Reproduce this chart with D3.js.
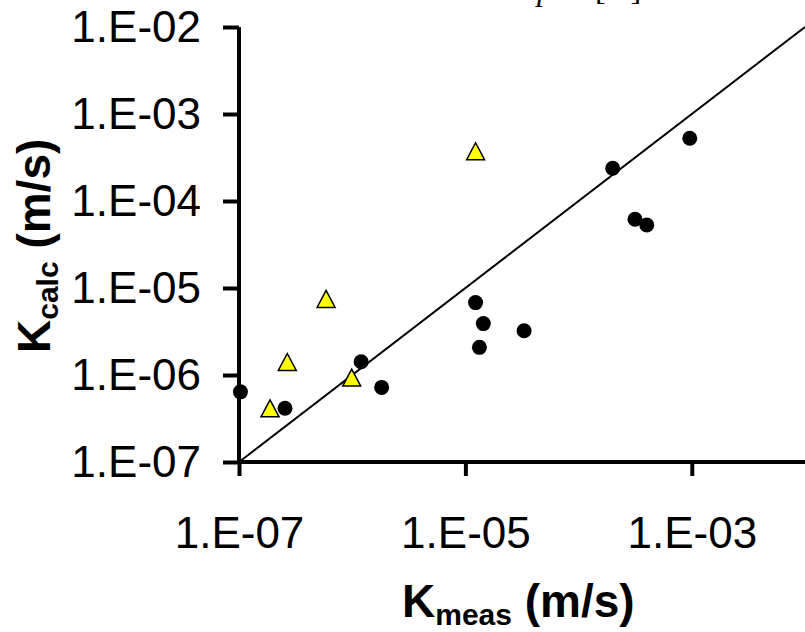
<!DOCTYPE html>
<html>
<head>
<meta charset="utf-8">
<script src="https://cdn.jsdelivr.net/npm/d3@7"></script>
<style>
  html, body { margin: 0; padding: 0; background: #fff; }
  svg { display: block; }
</style>
</head>
<body>
<svg id="chart" width="805" height="632"></svg>
<script>
// ---- data ----
const circleMeas = [1.03e-7, 2.55e-7, 1.2e-6, 1.82e-6, 1.23e-5, 1.44e-5, 1.33e-5, 3.3e-5, 2.0e-4, 3.15e-4, 4.0e-4, 9.6e-4];
const circleCalc = [6.4e-7, 4.14e-7, 1.42e-6, 7.2e-7, 6.8e-6, 3.9e-6, 2.08e-6, 3.23e-6, 2.38e-4, 6.17e-5, 5.3e-5, 5.26e-4];
const triMeas = [1.88e-7, 2.67e-7, 5.88e-7, 9.9e-7, 1.23e-5];
const triCalc = [4.14e-7, 1.41e-6, 7.48e-6, 9.35e-7, 3.73e-4];
const lineEnds = [1e-7, 1e-2];
const xTicks = [1e-7, 1e-5, 1e-3];
const yTicks = [1e-7, 1e-6, 1e-5, 1e-4, 1e-3, 1e-2];
const fmt = v => "1.E-" + String(Math.round(-Math.log10(v))).padStart(2, "0");

// ---- layout ----
const svg = d3.select("#chart");
const x = d3.scaleLog().domain([1e-7, 1e-2]).range([239, 805]);
const y = d3.scaleLog().domain([1e-7, 1e-2]).range([462, 27]);
const font = "'Liberation Sans', Arial, sans-serif";

// cut-off title at the top
const title = svg.append("text").attr("y", 0)
  .attr("font-family", "'Liberation Serif', 'Times New Roman', serif")
  .attr("font-size", 32).attr("fill", "#000");
title.append("tspan").attr("x", 537).attr("font-style", "italic").text("p");
title.append("tspan").attr("x", 595).text("[cr]");

// 1:1 line
svg.append("line")
  .attr("x1", x(lineEnds[0])).attr("y1", y(lineEnds[0]))
  .attr("x2", x(lineEnds[1])).attr("y2", y(lineEnds[1]))
  .attr("stroke", "#000").attr("stroke-width", 2);

// axes
const xAxis = d3.axisBottom(x).tickValues(xTicks).tickFormat(fmt).tickSize(14).tickPadding(40);
const yAxis = d3.axisLeft(y).tickValues(yTicks).tickFormat(fmt).tickSize(16).tickPadding(22);

const gx = svg.append("g").attr("transform", `translate(0,${y(1e-7)})`).call(xAxis);
const gy = svg.append("g").attr("transform", `translate(${x(1e-7)},0)`).call(yAxis);
[gx, gy].forEach(g => {
  g.select(".domain").attr("stroke", "#000").attr("stroke-width", 4);
  g.selectAll(".tick line").attr("stroke", "#000").attr("stroke-width", 4);
  g.selectAll(".tick text").attr("font-family", font).attr("font-size", 44).attr("fill", "#000");
});
gx.select(".domain").attr("d", `M${x(1e-7)},0H806`);
gy.select(".domain").attr("d", `M0,${y(1e-2)}V${y(1e-7)}`);
gx.selectAll(".tick text").attr("dy", "0").attr("y", 86);

// circles
svg.append("g").selectAll("circle")
  .data(circleMeas.map((m, i) => [m, circleCalc[i]]))
  .join("circle")
  .attr("cx", d => x(d[0])).attr("cy", d => y(d[1]))
  .attr("r", 7.5).attr("fill", "#000");

// triangles
const tw = 18, th = 17;
svg.append("g").selectAll("path")
  .data(triMeas.map((m, i) => [m, triCalc[i]]))
  .join("path")
  .attr("d", d => {
    const cx = x(d[0]), cy = y(d[1]);
    return `M${cx},${cy - th / 2}L${cx + tw / 2},${cy + th / 2}L${cx - tw / 2},${cy + th / 2}Z`;
  })
  .attr("fill", "#ffff00").attr("stroke", "#000").attr("stroke-width", 1.5)
  .attr("stroke-linejoin", "miter");

// axis titles
const xl = svg.append("text").attr("x", 402).attr("y", 617)
  .attr("font-family", font).attr("font-weight", "bold").attr("font-size", 46).attr("fill", "#000");
xl.append("tspan").text("K");
xl.append("tspan").attr("font-size", 30).attr("dy", 8).text("meas");
xl.append("tspan").attr("dy", -8).text(" (m/s)");

const yl = svg.append("text").attr("transform", "translate(50,353) rotate(-90)")
  .attr("font-family", font).attr("font-weight", "bold").attr("font-size", 46).attr("fill", "#000");
yl.append("tspan").text("K");
yl.append("tspan").attr("font-size", 30).attr("dy", 8).text("calc");
yl.append("tspan").attr("dy", -8).text(" (m/s)");
</script>
</body>
</html>
